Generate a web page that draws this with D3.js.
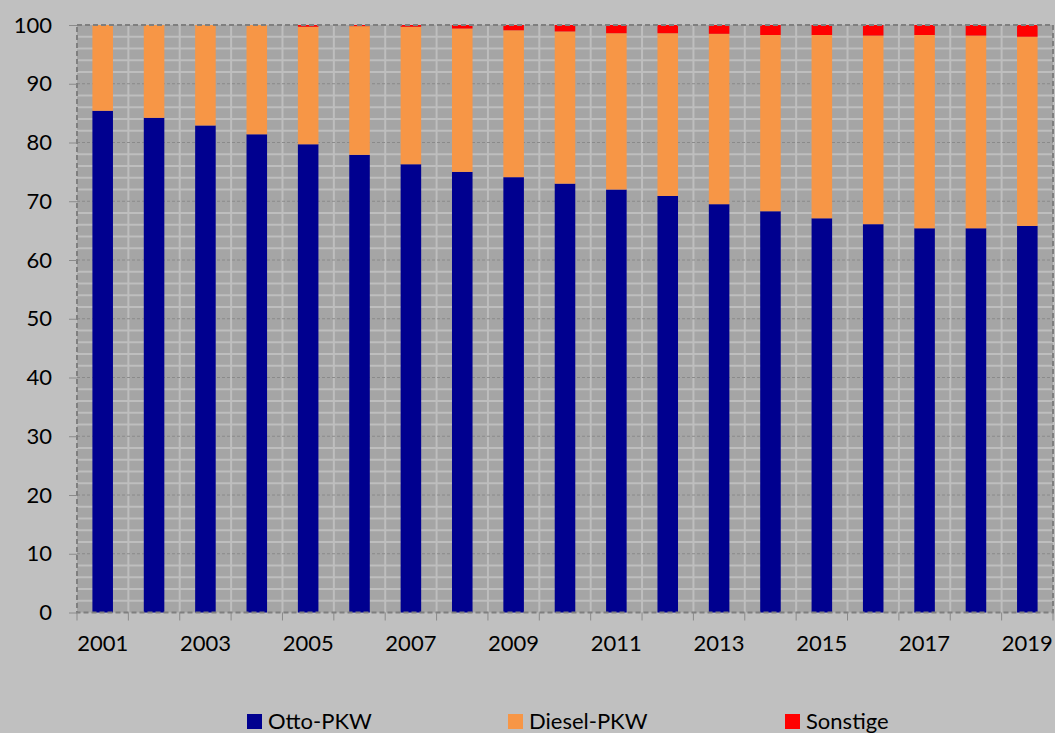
<!DOCTYPE html>
<html>
<head>
<meta charset="utf-8">
<script src="https://cdn.jsdelivr.net/npm/d3@7"></script>
<style>
  html, body { margin: 0; padding: 0; background: #c0c0c0; }
  svg { display: block; }
  text { font-family: Lato, "Open Sans", sans-serif; fill: #000; }
</style>
</head>
<body>
<svg id="chart" width="1055" height="733"></svg>
<script>
// Anteile der PKW nach Antriebsart (Prozent)
const years = [2001, 2002, 2003, 2004, 2005, 2006, 2007, 2008, 2009, 2010,
               2011, 2012, 2013, 2014, 2015, 2016, 2017, 2018, 2019];
const otto     = [85.4, 84.2, 82.9, 81.4, 79.7, 77.9, 76.3, 75.0, 74.1, 73.0,
                  72.0, 70.9, 69.5, 68.3, 67.1, 66.1, 65.4, 65.4, 65.8];
const diesel   = [14.6, 15.8, 17.1, 18.6, 20.0, 21.9, 23.4, 24.4, 25.0, 25.9,
                  26.6, 27.7, 29.0, 30.0, 31.2, 32.1, 32.9, 32.8, 32.2];
const sonstige = [0.0, 0.0, 0.0, 0.0, 0.3, 0.2, 0.3, 0.6, 0.9, 1.1,
                  1.4, 1.4, 1.5, 1.7, 1.7, 1.8, 1.7, 1.8, 2.0];
const seriesNames = ["Otto-PKW", "Diesel-PKW", "Sonstige"];
const seriesColors = ["#00008f", "#f79646", "#ff0000"];
const yTicks = [0, 10, 20, 30, 40, 50, 60, 70, 80, 90, 100];
const xLabelYears = [2001, 2003, 2005, 2007, 2009, 2011, 2013, 2015, 2017, 2019];

const rows = years.map((y, i) => ({
  year: y, "Otto-PKW": otto[i], "Diesel-PKW": diesel[i], "Sonstige": sonstige[i]
}));

const svg = d3.select("#chart");
const plot = { left: 77, right: 1053, top: 25, bottom: 612.5 };
const fontSize = "22px";

const x = d3.scaleBand()
  .domain(years)
  .range([plot.left, plot.right])
  .paddingInner(0.6)
  .paddingOuter(0.3);
const y = d3.scaleLinear().domain([0, 100]).range([plot.bottom, plot.top]);
const color = d3.scaleOrdinal().domain(seriesNames).range(seriesColors);

// plot background
svg.append("rect")
  .attr("x", plot.left).attr("y", plot.top)
  .attr("width", plot.right - plot.left).attr("height", plot.bottom - plot.top)
  .attr("fill", "#a5a5a5");

// minor horizontal gridlines every 2 units
const minor = d3.range(2, 100, 2).filter(v => v % 10 !== 0);
svg.append("g").selectAll("line").data(minor).join("line")
  .attr("x1", plot.left).attr("x2", plot.right)
  .attr("y1", d => y(d)).attr("y2", d => y(d))
  .attr("stroke", "#bebebe").attr("stroke-width", 2);

// vertical gridlines at category boundaries
const step = x.step();
const boundaries = d3.range(1, years.length).map(i => plot.left + i * step);
svg.append("g").selectAll("line").data(boundaries).join("line")
  .attr("x1", d => d).attr("x2", d => d)
  .attr("y1", plot.top).attr("y2", plot.bottom)
  .attr("stroke", "#bebebe").attr("stroke-width", 2);

// major horizontal gridlines (dotted)
svg.append("g").selectAll("line").data(yTicks.filter(v => v > 0 && v < 100)).join("line")
  .attr("x1", plot.left).attr("x2", plot.right)
  .attr("y1", d => y(d)).attr("y2", d => y(d))
  .attr("stroke", "#8a8a8a").attr("stroke-width", 1)
  .attr("stroke-dasharray", "3,2");

// stacked bars
const stacked = d3.stack().keys(seriesNames)(rows);
svg.append("g").selectAll("g").data(stacked).join("g")
  .attr("fill", d => color(d.key))
  .selectAll("rect").data(d => d).join("rect")
  .attr("x", d => x(d.data.year))
  .attr("width", x.bandwidth())
  .attr("y", d => y(d[1]))
  .attr("height", d => y(d[0]) - y(d[1]));

// plot border (dashed)
svg.append("rect")
  .attr("x", plot.left).attr("y", plot.top)
  .attr("width", plot.right - plot.left).attr("height", plot.bottom - plot.top)
  .attr("fill", "none").attr("stroke", "#7f7f7f").attr("stroke-width", 2)
  .attr("stroke-dasharray", "5,3");

// y axis
const yAxis = svg.append("g")
  .attr("transform", `translate(${plot.left},0)`)
  .call(d3.axisLeft(y).tickValues(yTicks).tickSize(8).tickPadding(17));
yAxis.select(".domain").remove();
yAxis.selectAll(".tick line").attr("stroke", "#8a8a8a");
yAxis.selectAll(".tick text").style("font-size", fontSize).style("font-family", "Lato, sans-serif");

// x axis ticks at category boundaries
const xTickPos = d3.range(0, years.length + 1).map(i => plot.left + i * step);
svg.append("g").selectAll("line").data(xTickPos).join("line")
  .attr("x1", d => d).attr("x2", d => d)
  .attr("y1", plot.bottom).attr("y2", plot.bottom + 8)
  .attr("stroke", "#8a8a8a").attr("stroke-width", 1);

// x labels every second year
svg.append("g").selectAll("text").data(xLabelYears).join("text")
  .attr("x", d => x(d) + x.bandwidth() / 2)
  .attr("y", 651)
  .attr("text-anchor", "middle")
  .style("font-size", fontSize)
  .text(d => d);

// legend
const legendX = [247, 508, 785];
const legend = svg.append("g").selectAll("g").data(seriesNames).join("g")
  .attr("transform", (d, i) => `translate(${legendX[i]},0)`);
legend.append("rect")
  .attr("x", 0).attr("y", 714).attr("width", 15).attr("height", 15)
  .attr("fill", d => color(d));
legend.append("text")
  .attr("x", 21).attr("y", 729)
  .style("font-size", fontSize)
  .text(d => d);
</script>
</body>
</html>
